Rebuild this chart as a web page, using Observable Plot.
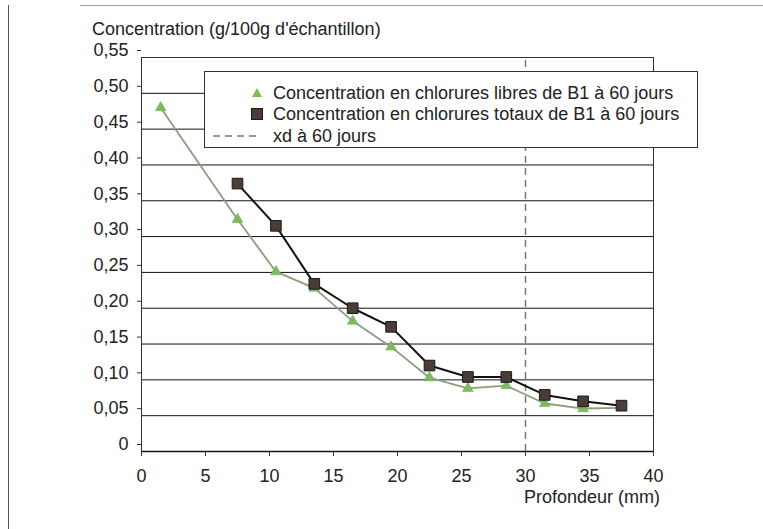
<!DOCTYPE html>
<html>
<head>
<meta charset="utf-8">
<script src="https://cdn.jsdelivr.net/npm/d3@7"></script>
<script src="https://cdn.jsdelivr.net/npm/@observablehq/plot@0.6"></script>
<style>
  html, body { margin: 0; padding: 0; background: #fff; }
  #wrap { position: relative; width: 763px; height: 529px; overflow: hidden; font-family: "Liberation Sans", Arial, sans-serif; color: #222; }
  #border-left { position: absolute; left: 8px; top: 5px; width: 0; height: 524px; border-left: 1.5px solid #555; }
  #border-top { position: absolute; left: 80px; top: 5px; width: 683px; height: 0; border-top: 1px solid #9aa88a; }
  .lbl { position: absolute; font-size: 18px; line-height: 21px; white-space: nowrap; }
  #legend { position: absolute; left: 204px; top: 71px; width: 494px; height: 77px; border: 1px solid #333; background: #fff; box-sizing: border-box; }
  .row { position: absolute; left: 0; height: 20px; display: flex; align-items: center; font-size: 18px; white-space: nowrap; }
  .row svg { position: absolute; }
  .row span { position: absolute; left: 68px; line-height: 20px; }
</style>
</head>
<body>
<div id="wrap">
  <div id="chart"></div>
  <div id="border-left"></div>
  <div id="border-top"></div>
  <div class="lbl" id="ylabel" style="left:92px; top:19px;"></div>
  <div class="lbl" id="xlabel" style="right:103px; top:487px;"></div>
  <div id="legend"></div>
</div>
<script>
// ---- data ----
const depths = [1.5, 7.5, 10.5, 13.5, 16.5, 19.5, 22.5, 25.5, 28.5, 31.5, 34.5, 37.5];
const libres = [0.480, 0.324, 0.251, 0.228, 0.182, 0.146, 0.103, 0.088, 0.092, 0.067, 0.060, 0.061];
const totauxDepths = [7.5, 10.5, 13.5, 16.5, 19.5, 22.5, 25.5, 28.5, 31.5, 34.5, 37.5];
const totaux = [0.374, 0.315, 0.234, 0.200, 0.174, 0.120, 0.104, 0.104, 0.079, 0.070, 0.064];
const xd = [30];
const yTicks = [0, 0.05, 0.10, 0.15, 0.20, 0.25, 0.30, 0.35, 0.40, 0.45, 0.50, 0.55];
const xTicks = [0, 5, 10, 15, 20, 25, 30, 35, 40];
const yLabel = "Concentration (g/100g d'échantillon)";
const xLabel = "Profondeur (mm)";
const seriesNames = [
  "Concentration en chlorures libres de B1 à 60 jours",
  "Concentration en chlorures totaux de B1 à 60 jours",
  "xd à 60 jours"
];

// ---- tables ----
const libresData = depths.map((d, i) => ({x: d, y: libres[i]}));
const totauxData = totauxDepths.map((d, i) => ({x: d, y: totaux[i]}));
const fmtY = d => d === 0 ? "0" : d3.format(".2f")(d).replace(".", ",");

const green = "#7dbb5c";
const greenLine = "#8a9f7c";
const dark = "#4a3d37";

const chart = Plot.plot({
  width: 763,
  height: 529,
  marginLeft: 141,
  marginRight: 110,
  marginTop: 57,
  marginBottom: 78,
  style: {fontFamily: '"Liberation Sans", Arial, sans-serif', fontSize: "18px", color: "#222", background: "transparent"},
  x: {domain: [0, 40]},
  y: {domain: [0, 0.55]},
  marks: [
    Plot.ruleY(yTicks.filter(d => d > 0), {stroke: "#111", strokeWidth: 1}),
    Plot.ruleX(xd, {y1: 0, y2: 0.55, stroke: "#777", strokeWidth: 1.5, strokeDasharray: "7,5"}),
    Plot.frame({stroke: "#333", strokeWidth: 1}),
    Plot.axisY({ticks: yTicks, tickFormat: fmtY, tickSize: 4, tickPadding: 9, dy: -7, fontSize: 18, label: null, stroke: "#333"}),
    Plot.axisX({ticks: xTicks, tickSize: 5, tickPadding: 13, fontSize: 18, label: null, stroke: "#333"}),
    Plot.ruleY([0], {stroke: "#111", strokeWidth: 1.5}),
    Plot.line(libresData, {x: "x", y: "y", stroke: greenLine, strokeWidth: 1.8}),
    Plot.dot(libresData, {x: "x", y: "y", symbol: "triangle", r: 4, fill: green, stroke: "#6aa84f", strokeWidth: 0.5}),
    Plot.line(totauxData, {x: "x", y: "y", stroke: "#111", strokeWidth: 2}),
    Plot.dot(totauxData, {x: "x", y: "y", symbol: "square", r: 6, fill: dark, stroke: "#1a1a1a", strokeWidth: 1})
  ]
});
document.getElementById("chart").appendChild(chart);
document.getElementById("ylabel").textContent = yLabel;
document.getElementById("xlabel").textContent = xLabel;

// ---- legend ----
const legend = document.getElementById("legend");
const rowTops = [11, 32, 54];
const symbols = [
  `<svg width="14" height="14" style="left:45px"><path d="M7 2 L12 11 L2 11 Z" fill="${green}"/></svg>`,
  `<svg width="14" height="14" style="left:45px"><rect x="1.5" y="1.5" width="11" height="11" fill="${dark}" stroke="#1a1a1a"/></svg>`,
  `<svg width="50" height="14" style="left:7px"><line x1="1" y1="7" x2="48" y2="7" stroke="#777" stroke-width="1.5" stroke-dasharray="7,5"/></svg>`
];
seriesNames.forEach((name, i) => {
  const row = document.createElement("div");
  row.className = "row";
  row.style.top = rowTops[i] + "px";
  row.style.width = "490px";
  row.innerHTML = symbols[i] + `<span></span>`;
  row.querySelector("span").textContent = name;
  legend.appendChild(row);
});
</script>
</body>
</html>
